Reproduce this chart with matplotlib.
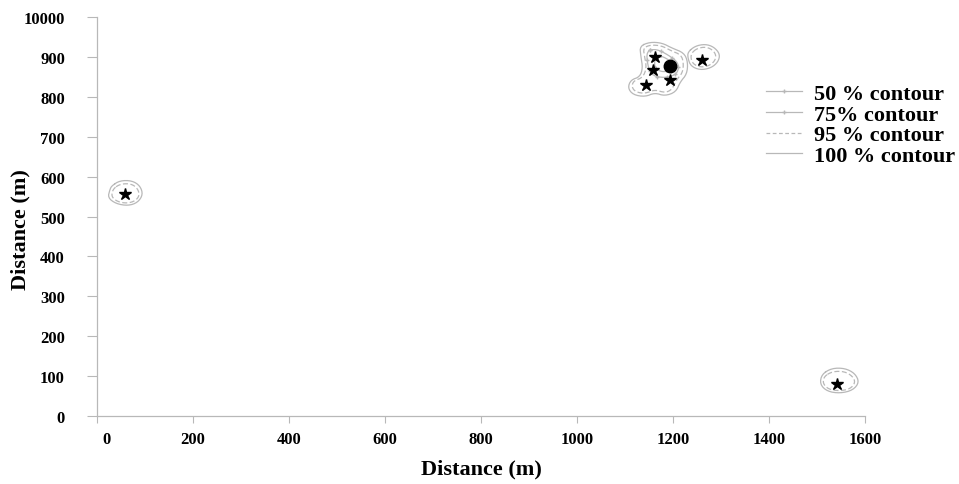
import numpy as np
import matplotlib
matplotlib.use('Agg')
import matplotlib.pyplot as plt
from matplotlib.lines import Line2D
import matplotlib.transforms as mtransforms

# point locations (m)
star_x = [58, 1162, 1158, 1144, 1194, 1260, 1542]
star_y = [557, 900, 867, 830, 842, 892, 80]
center_x = [1194]
center_y = [877]

# home range contours (x list, y list)
contours_100 = [
    ([31, 48, 73, 90, 96, 85, 65, 40, 23, 27],
     [577, 590, 590, 577, 555, 535, 527, 532, 547, 567]),
    ([1510, 1531, 1558, 1579, 1588, 1575, 1548, 1521, 1506],
     [105, 120, 120, 107, 85, 65, 57, 62, 80]),
    ([1231, 1246, 1267, 1285, 1298, 1294, 1279, 1256, 1237, 1231],
     [912, 927, 932, 925, 907, 887, 872, 867, 877, 897]),
    ([1131, 1152, 1177, 1198, 1223, 1231, 1229, 1215, 1206, 1183, 1162, 1142, 1117, 1106, 1112, 1131, 1137, 1133],
     [927, 937, 935, 922, 910, 887, 857, 837, 812, 802, 810, 800, 805, 822, 842, 850, 872, 902]),
]
contours_95 = [
    ([34, 50, 72, 85, 89, 80, 63, 43, 30],
     [570, 582, 582, 570, 553, 539, 533, 537, 550]),
    ([1515, 1533, 1557, 1574, 1580, 1569, 1547, 1524, 1512],
     [100, 112, 112, 100, 84, 68, 63, 67, 82]),
    ([1239, 1250, 1267, 1281, 1290, 1287, 1274, 1257, 1242, 1237],
     [910, 921, 925, 919, 905, 889, 877, 874, 882, 897]),
    ([1138, 1153, 1176, 1195, 1217, 1222, 1220, 1207, 1198, 1183, 1162, 1142, 1122, 1114, 1118, 1137, 1145, 1141],
     [922, 930, 928, 916, 905, 885, 860, 842, 818, 810, 818, 808, 812, 825, 840, 848, 872, 900]),
]
contours_75 = [
    ([1145, 1165, 1190, 1212, 1210, 1195, 1175, 1155, 1147],
     [915, 920, 905, 885, 860, 850, 848, 855, 880]),
]
contours_50 = [
    ([1165, 1185, 1203, 1195, 1175, 1160],
     [905, 898, 880, 865, 862, 875]),
]

legend_labels = ['50 % contour', '75% contour', '95 % contour', '100 % contour']
x_ticks = [0, 200, 400, 600, 800, 1000, 1200, 1400, 1600]
y_ticks = [0, 100, 200, 300, 400, 500, 600, 700, 800, 900, 1000]
y_ticklabels = ['0', '100', '200', '300', '400', '500', '600', '700', '800', '900', '10000']

plt.rcParams['font.family'] = ['Liberation Serif']
grey = '#b8b8b8'

fig = plt.figure(figsize=(9.59, 4.85), dpi=100)
ax = fig.add_axes([0.101, 0.140, 0.801, 0.823])


def smooth_closed(xs, ys, n_iter=2):
    # corner cutting so the contour outlines look rounded
    pts = np.column_stack([xs, ys]).astype(float)
    for _ in range(n_iter):
        nxt = np.roll(pts, -1, axis=0)
        q = 0.75 * pts + 0.25 * nxt
        r = 0.25 * pts + 0.75 * nxt
        pts = np.empty((2 * len(q), 2))
        pts[0::2] = q
        pts[1::2] = r
    pts = np.vstack([pts, pts[:1]])
    return pts[:, 0], pts[:, 1]


def draw_contours(contours, **kw):
    for cx, cy in contours:
        sx, sy = smooth_closed(cx, cy)
        ax.plot(sx, sy, color=grey, lw=0.9, **kw)


draw_contours(contours_100, ls='-')
draw_contours(contours_95, ls='--', dashes=(4, 2))
draw_contours(contours_75, ls='-', marker='+', markersize=2.5, markevery=4)
draw_contours(contours_50, ls='-', marker='.', markersize=2, markevery=6)

ax.plot(star_x, star_y, ls='none', marker='*', color='black', markersize=9)
ax.plot(center_x, center_y, ls='none', marker='o', color='black', markersize=9)

ax.set_xlim(0, 1600)
ax.set_ylim(0, 1000)
ax.set_xticks(x_ticks)
ax.set_xticklabels([str(v) for v in x_ticks], fontsize=12, fontweight='bold')
ax.set_yticks(y_ticks)
ax.set_yticklabels(y_ticklabels, fontsize=12, fontweight='bold')
ax.tick_params(axis='x', direction='out', length=5, color=grey, pad=6)
ax.tick_params(axis='y', direction='out', length=7, color=grey, pad=16)

# the "0" on the x axis sits a little right of its tick in the original
lbl0 = ax.get_xticklabels()[0]
lbl0.set_transform(lbl0.get_transform() + mtransforms.ScaledTranslation(0.1, 0, fig.dpi_scale_trans))

for s in ['top', 'right']:
    ax.spines[s].set_visible(False)
for s in ['left', 'bottom']:
    ax.spines[s].set_color(grey)
    ax.spines[s].set_linewidth(0.9)

ax.set_xlabel('Distance (m)', fontsize=16, fontweight='bold')
ax.set_ylabel('Distance (m)', fontsize=16, fontweight='bold')
ax.xaxis.set_label_coords(0.5, -0.105)
ax.yaxis.set_label_coords(-0.087, 0.47)

handles = [
    Line2D([], [], color=grey, lw=0.9, marker='+', markersize=3, markevery=[1, 2]),
    Line2D([], [], color=grey, lw=0.9, marker='+', markersize=3),
    Line2D([], [], color=grey, lw=0.9, ls='--', dashes=(3, 2)),
    Line2D([], [], color=grey, lw=0.9),
]
ax.legend(handles, legend_labels, loc='upper left', bbox_to_anchor=(0.86, 0.855),
          frameon=False, prop={'size': 16, 'weight': 'bold'},
          handlelength=1.6, handletextpad=0.55, labelspacing=0.0, borderaxespad=0)

fig.savefig('out.png', dpi=100)
